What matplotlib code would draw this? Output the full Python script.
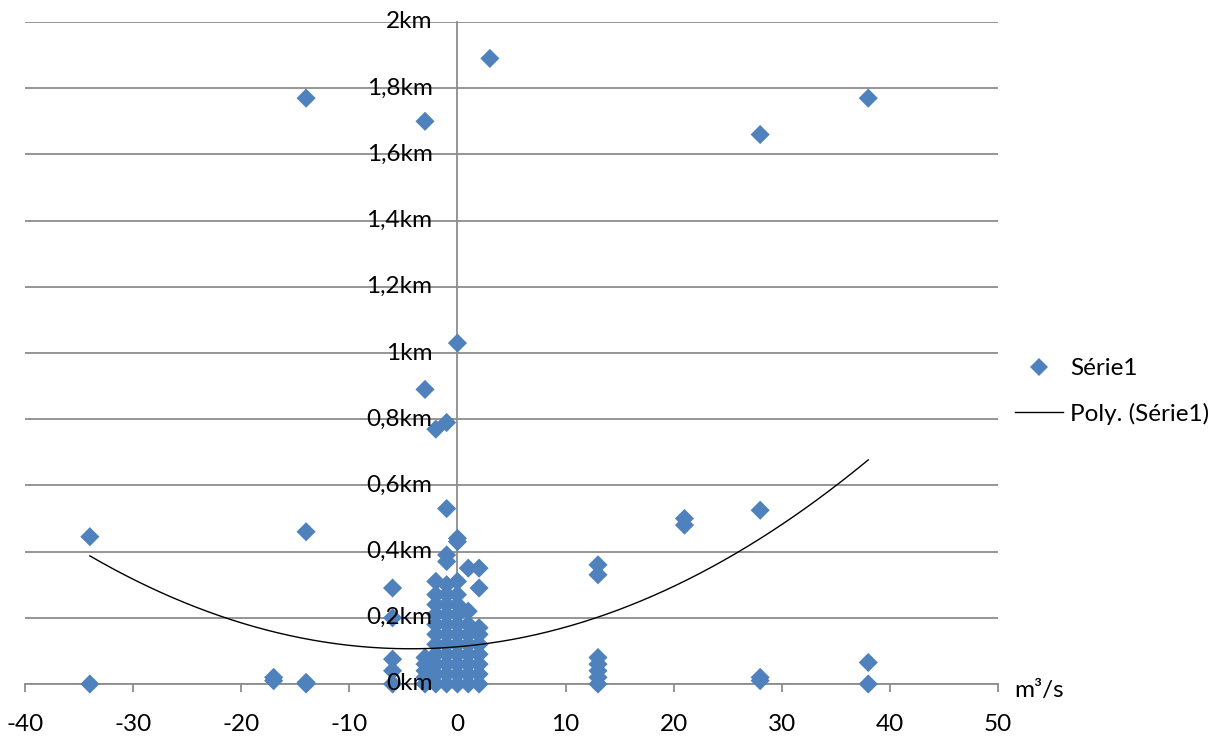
import matplotlib
matplotlib.use("Agg")
import matplotlib.pyplot as plt
from matplotlib.lines import Line2D
import numpy as np

plt.rcParams['font.family'] = ['Lato', 'DejaVu Sans']

# débit (m3/s) et distance (km)
x_outer = [-34, -34, -17, -17, -14, -14, -14, -14, -6, -6, -6, -6, -6,
           -3, -3, -2, -1, -1, -1, -1, 0, 0, 0, 3, 1, 2, 2, 2,
           13, 13, 13, 13, 13, 13, 13, 21, 21, 28, 28, 28, 28, 38, 38, 38]
y_outer = [0.445, 0.0, 0.02, 0.01, 1.77, 0.46, 0.005, 0.0, 0.29, 0.20, 0.075, 0.04, 0.0,
           1.70, 0.89, 0.77, 0.79, 0.53, 0.39, 0.37, 1.03, 0.44, 0.43, 1.89, 0.35, 0.35, 0.29, 0.15,
           0.36, 0.33, 0.08, 0.06, 0.04, 0.02, 0.0, 0.50, 0.48, 1.66, 0.525, 0.02, 0.01, 1.77, 0.065, 0.0]

# amas autour de 0 m3/s
col_m3 = [0.0, 0.02, 0.04, 0.06, 0.08]
col_m2 = [0.0, 0.03, 0.06, 0.09, 0.12, 0.15, 0.18, 0.21, 0.24, 0.27, 0.31]
col_m1 = [0.0, 0.03, 0.06, 0.09, 0.12, 0.15, 0.18, 0.21, 0.24, 0.27, 0.30]
col_0 = [0.0, 0.03, 0.06, 0.09, 0.12, 0.15, 0.18, 0.21, 0.24, 0.27, 0.31]
col_p1 = [0.0, 0.03, 0.06, 0.09, 0.12, 0.15, 0.18, 0.22]
col_p2 = [0.0, 0.03, 0.06, 0.09, 0.12, 0.17]

# tendance polynomiale (ordre 2)
trend_coef = [0.0003186, 0.002754, 0.1124]
trend_range = [-34, 38]

x_ticks = [-40, -30, -20, -10, 0, 10, 20, 30, 40, 50]
y_ticks = [0, 0.2, 0.4, 0.6, 0.8, 1.0, 1.2, 1.4, 1.6, 1.8, 2.0]

blue = '#4F81BD'
grid_gray = '#8c8c8c'
fs = 17.5

x_all = list(x_outer)
y_all = list(y_outer)
for xv, col in [(-3, col_m3), (-2, col_m2), (-1, col_m1), (0, col_0), (1, col_p1), (2, col_p2)]:
    x_all += [xv] * len(col)
    y_all += col

fig = plt.figure(figsize=(12.21, 7.40), dpi=100)
ax = fig.add_axes([25 / 1221, 1 - 684 / 740, (998 - 25) / 1221, (684 - 22) / 740])

ax.set_xlim(-40, 50)
ax.set_ylim(0, 2)

ax.scatter(x_all, y_all, marker='D', s=95, color=blue, edgecolors='none',
           zorder=4, clip_on=False)

xt = np.linspace(trend_range[0], trend_range[1], 200)
ax.plot(xt, np.polyval(trend_coef, xt), color='black', lw=1.0, zorder=5)

# axes et grille
for s in ['top', 'right']:
    ax.spines[s].set_visible(False)
ax.spines['left'].set_position(('data', 0))
ax.spines['left'].set_color(grid_gray)
ax.spines['left'].set_linewidth(1.3)
ax.spines['bottom'].set_color(grid_gray)
ax.spines['bottom'].set_linewidth(1.3)

# étiquettes de l'axe vertical au-dessus des points
ax.set_yticks(y_ticks)
ax.set_yticklabels([])
ax.yaxis.grid(True, color=grid_gray, lw=1.3)
ax.set_axisbelow(True)
ax.tick_params(axis='y', length=0)
for v in y_ticks:
    lab = ('%g' % v).replace('.', ',') + 'km'
    ax.annotate(lab, xy=(0, v), xycoords='data', xytext=(-18, 0), textcoords='offset points',
                ha='right', va='center', fontsize=fs, zorder=7, annotation_clip=False)

ax.set_xticks(x_ticks)
ax.set_xticklabels([str(v) for v in x_ticks])
ax.tick_params(axis='x', direction='out', length=6, width=1.3, color=grid_gray,
               pad=15.5, labelsize=fs, labelcolor='black')

fig.text(1014 / 1221, 1 - 690 / 740, 'm³/s', fontsize=fs, va='center', ha='left')

handles = [Line2D([], [], marker='D', ls='none', color=blue, markersize=9.5, markeredgewidth=0),
           Line2D([], [], color='black', lw=1.0)]
fig.legend(handles, ['Série1', 'Poly. (Série1)'], loc='upper left',
           bbox_to_anchor=(1015 / 1221, 1 - 358 / 740), frameon=False, fontsize=fs,
           handlelength=1.98, handletextpad=0.3, labelspacing=0.97,
           borderpad=0, borderaxespad=0)

fig.savefig('out.png', dpi=100)
